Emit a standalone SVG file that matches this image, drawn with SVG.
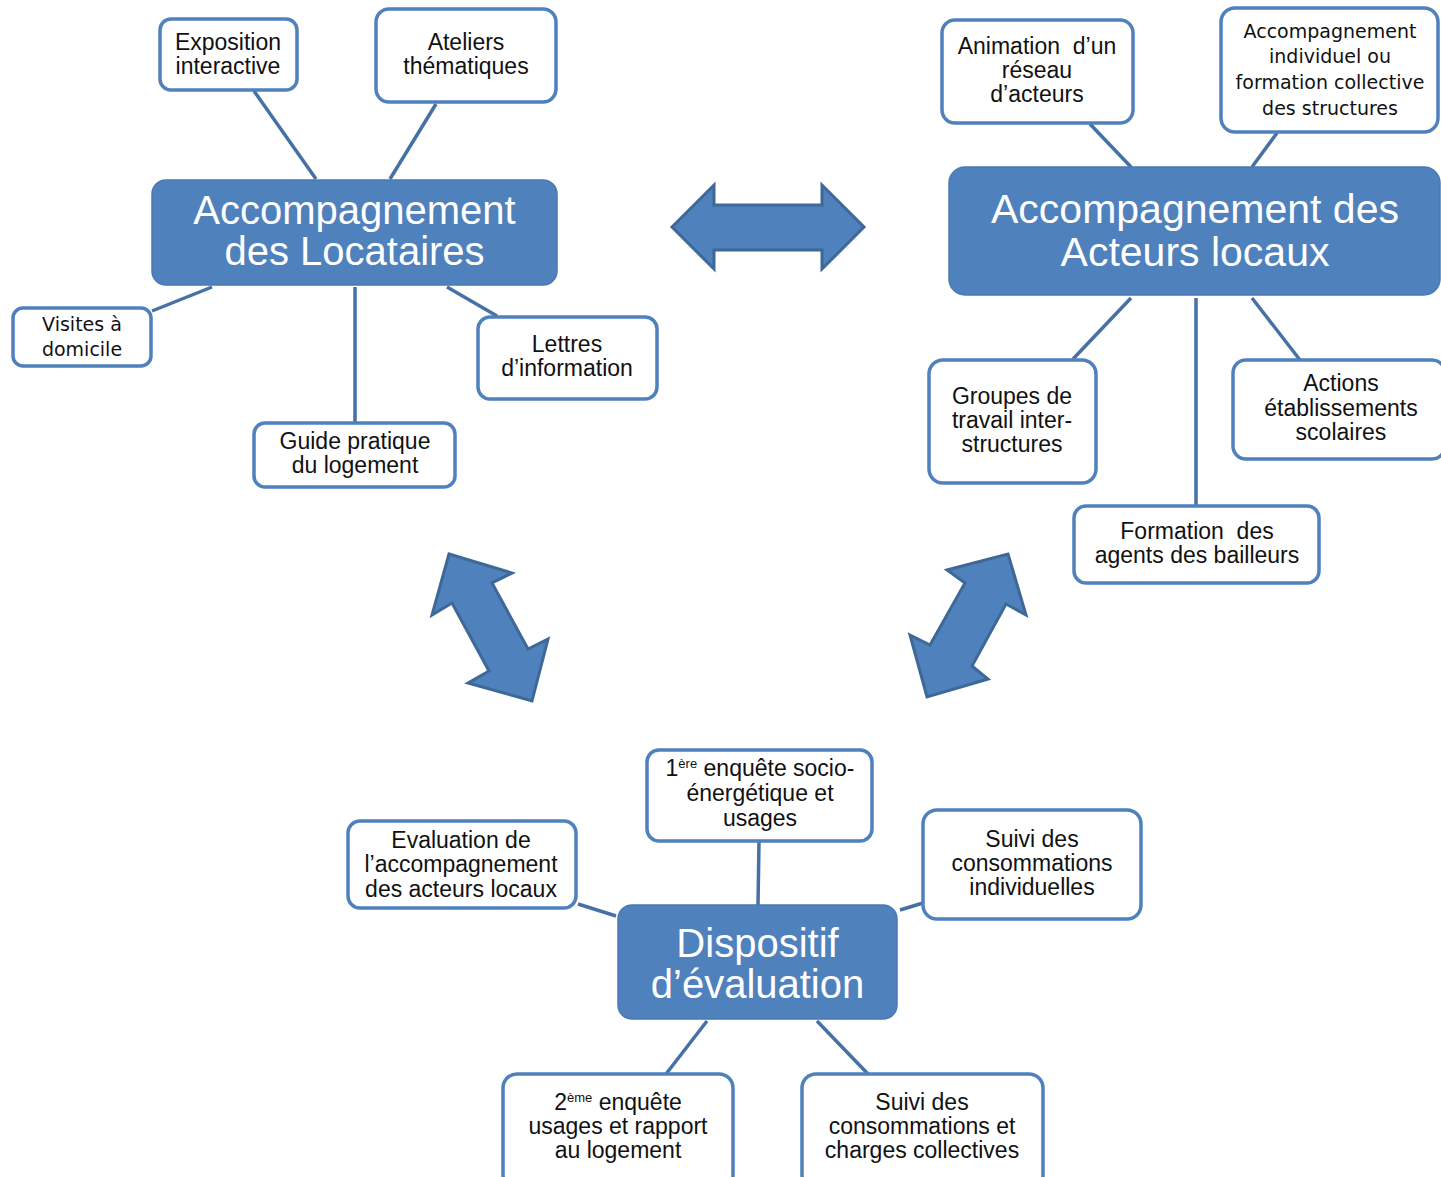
<svg xmlns="http://www.w3.org/2000/svg" width="1441" height="1177" viewBox="0 0 1441 1177">
<style>
.bg{fill:#ffffff}
.main rect{fill:#4f81bd;stroke:#4a7ab6;stroke-width:1.5}
.main text{fill:#ffffff;font-family:"Liberation Sans",Arial,sans-serif;text-anchor:middle}
.box rect{fill:#ffffff;stroke:#4f81bd;stroke-width:3.5}
.box text{fill:#111111;font-family:"Liberation Sans",Arial,sans-serif;font-size:23px;text-anchor:middle}
.box text.dv{font-family:"DejaVu Sans",sans-serif;font-size:19px}
.sup{font-size:13px}
#connectors line{stroke:#4671a6;stroke-width:3.5;stroke-linecap:butt}
.bigarrow{fill:#4f81bd;stroke:#3d6898;stroke-width:3;stroke-linejoin:miter}
</style>
<rect class="bg" x="0" y="0" width="1441" height="1177"/>

<g id="connectors">
  <line x1="254" y1="91" x2="316" y2="179"/>
  <line x1="436" y1="104" x2="390" y2="179"/>
  <line x1="152" y1="311" x2="212" y2="287"/>
  <line x1="447" y1="287" x2="497" y2="316"/>
  <line x1="355" y1="287" x2="355" y2="423"/>
  <line x1="1090" y1="124" x2="1131" y2="167"/>
  <line x1="1277" y1="133" x2="1252" y2="167"/>
  <line x1="1073" y1="359" x2="1131" y2="298"/>
  <line x1="1300" y1="360" x2="1252" y2="298"/>
  <line x1="1196" y1="298" x2="1196" y2="506"/>
  <line x1="759" y1="842" x2="758" y2="905"/>
  <line x1="578" y1="904" x2="616" y2="916"/>
  <line x1="900" y1="910" x2="923" y2="903"/>
  <line x1="666" y1="1074" x2="707" y2="1021"/>
  <line x1="817" y1="1021" x2="868" y2="1074"/>
  <polygon class="bigarrow" points="672,227 714,185 714,205 822,205 822,185 864,227 822,269 822,250 714,250 714,269"/>
  <polygon class="bigarrow" points="449,554 512,573 492,583 528,649 548,639 532,701 468,683 489,671 452,603 432,615"/>
  <polygon class="bigarrow" points="1008,554 1026,615 1006,604 972,666 988,679 927,697 910,635 930,645 965,583 947,570"/>
</g>

<g id="node-locataires" class="main">
  <rect x="152" y="180" width="405" height="105" rx="14"/>
  <text x="354.5" y="224" font-size="40">Accompagnement</text>
  <text x="354.5" y="265" font-size="40">des Locataires</text>
</g>
<g id="node-acteurs" class="main">
  <rect x="949" y="167" width="491" height="128" rx="16"/>
  <text x="1195" y="223" font-size="41">Accompagnement des</text>
  <text x="1195" y="266" font-size="41">Acteurs locaux</text>
</g>
<g id="node-dispositif" class="main">
  <rect x="618" y="905" width="279" height="114" rx="14"/>
  <text x="757.5" y="957" font-size="40">Dispositif</text>
  <text x="757.5" y="998" font-size="40">d’évaluation</text>
</g>

<g id="node-exposition" class="box">
  <rect x="160" y="19" width="137" height="71" rx="11"/>
  <text x="228" y="50">Exposition</text>
  <text x="228" y="74">interactive</text>
</g>
<g id="node-ateliers" class="box">
  <rect x="376" y="9" width="180" height="93" rx="13"/>
  <text x="466" y="50">Ateliers</text>
  <text x="466" y="74">thématiques</text>
</g>
<g id="node-visites" class="box">
  <rect x="13" y="308" width="138" height="58" rx="10"/>
  <text class="dv" x="82" y="331">Visites à</text>
  <text class="dv" x="82" y="356">domicile</text>
</g>
<g id="node-lettres" class="box">
  <rect x="478" y="317" width="179" height="82" rx="12"/>
  <text x="567" y="352">Lettres</text>
  <text x="567" y="376">d’information</text>
</g>
<g id="node-guide" class="box">
  <rect x="254" y="423" width="201" height="64" rx="11"/>
  <text x="355" y="449">Guide pratique</text>
  <text x="355" y="473">du logement</text>
</g>

<g id="node-animation" class="box">
  <rect x="942" y="20" width="191" height="103" rx="13"/>
  <text x="1037" y="54">Animation&#160; d’un</text>
  <text x="1037" y="78">réseau</text>
  <text x="1037" y="102">d’acteurs</text>
</g>
<g id="node-accompagnement-individuel" class="box">
  <rect x="1221" y="8" width="217" height="124" rx="14"/>
  <text class="dv" x="1330" y="38">Accompagnement</text>
  <text class="dv" x="1330" y="63">individuel ou</text>
  <text class="dv" x="1330" y="89">formation collective</text>
  <text class="dv" x="1330" y="115">des structures</text>
</g>
<g id="node-groupes" class="box">
  <rect x="929" y="360" width="167" height="123" rx="14"/>
  <text x="1012" y="404">Groupes de</text>
  <text x="1012" y="428">travail inter-</text>
  <text x="1012" y="452">structures</text>
</g>
<g id="node-actions" class="box">
  <rect x="1233" y="360" width="212" height="99" rx="13"/>
  <text x="1341" y="391">Actions</text>
  <text x="1341" y="416">établissements</text>
  <text x="1341" y="440">scolaires</text>
</g>
<g id="node-formation" class="box">
  <rect x="1074" y="506" width="245" height="77" rx="12"/>
  <text x="1197" y="539">Formation&#160; des</text>
  <text x="1197" y="563">agents des bailleurs</text>
</g>

<g id="node-enquete1" class="box">
  <rect x="647" y="750" width="225" height="91" rx="12"/>
  <text x="760" y="776">1<tspan class="sup" dy="-8">ère</tspan><tspan dy="8"> enquête socio-</tspan></text>
  <text x="760" y="801">énergétique et</text>
  <text x="760" y="826">usages</text>
</g>
<g id="node-evaluation" class="box">
  <rect x="348" y="821" width="228" height="87" rx="12"/>
  <text x="461" y="848">Evaluation de</text>
  <text x="461" y="872">l’accompagnement</text>
  <text x="461" y="897">des acteurs locaux</text>
</g>
<g id="node-suivi-individuel" class="box">
  <rect x="923" y="810" width="218" height="109" rx="14"/>
  <text x="1032" y="847">Suivi des</text>
  <text x="1032" y="871">consommations</text>
  <text x="1032" y="895">individuelles</text>
</g>
<g id="node-enquete2" class="box">
  <rect x="503" y="1074" width="230" height="115" rx="14"/>
  <text x="618" y="1110">2<tspan class="sup" dy="-8">ème</tspan><tspan dy="8"> enquête</tspan></text>
  <text x="618" y="1134">usages et rapport</text>
  <text x="618" y="1158">au logement</text>
</g>
<g id="node-suivi-collectif" class="box">
  <rect x="802" y="1074" width="241" height="115" rx="14"/>
  <text x="922" y="1110">Suivi des</text>
  <text x="922" y="1134">consommations et</text>
  <text x="922" y="1158">charges collectives</text>
</g>
</svg>
